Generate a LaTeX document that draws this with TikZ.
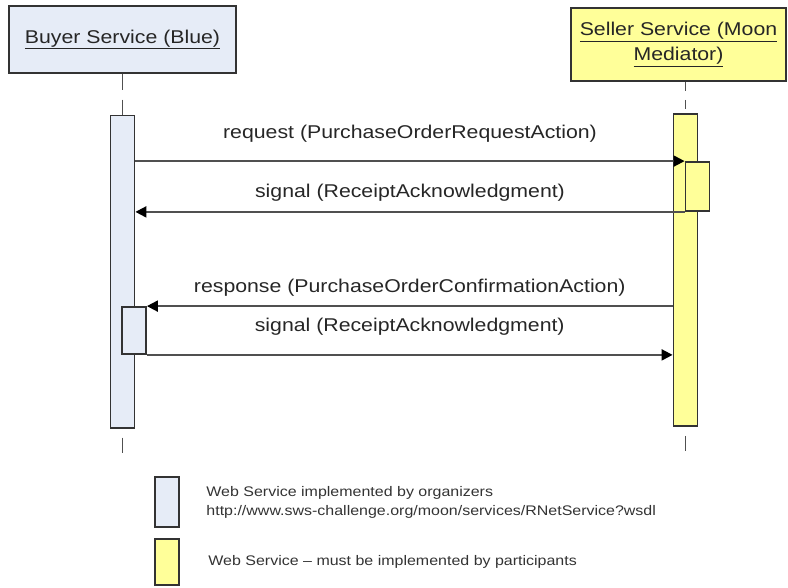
\documentclass[tikz,border=0pt]{standalone}
\usepackage{fontspec}
\setmainfont{Liberation Sans}[FakeStretch=1.15]
\usetikzlibrary{positioning, arrows.meta}

\definecolor{buyerblue}{HTML}{E6ECF7}
\definecolor{selleryellow}{HTML}{FFFF99}
\definecolor{linegray}{HTML}{505050}
\definecolor{edgegray}{HTML}{333333}

\begin{document}
\begin{tikzpicture}[x=1pt, y=-1pt,
	head/.style={draw=edgegray, line width=1.8pt, inner sep=0pt, align=center, text=black!85, font=\fontsize{18.5}{25}\selectfont},
	bar/.style={draw=edgegray, line width=1.8pt, inner sep=0pt, minimum width=24pt},
	life/.style={draw=linegray, line width=1.8pt},
	msg/.style={draw=linegray, line width=2pt, -{Triangle[length=11pt, width=11pt, color=black]}},
	lbl/.style={text=black!85, font=\fontsize{18.5}{22}\selectfont},
	legtext/.style={align=left, text=black!80, font=\fontsize{13.9}{19}\selectfont}]
	\useasboundingbox (0,0) rectangle (788,588);
	\node[head, fill=buyerblue, minimum width=227pt, minimum height=67pt] (buyer) at (122.5,39.3) {\underline{Buyer Service (Blue)}};
	\node[head, fill=selleryellow, minimum width=215pt, minimum height=73pt] (seller) at (678.5,44.5) {\underline{Seller Service (Moon}\\\underline{Mediator)}};
	\node[bar, fill=buyerblue, minimum height=312pt, below=41pt of buyer] (bbar) {};
	\node[bar, fill=selleryellow, minimum height=312pt] (sbar) at (685.5,270) {};
	\node[bar, fill=selleryellow, minimum height=49pt] (sact) at (697.5,186.5) {};
	\node[bar, fill=buyerblue, minimum height=47pt] (bact) at (134,330.5) {};
	% lifelines
	\draw[life, dash pattern=on 16pt off 10pt] (buyer.south) -- (bbar.north);
	\draw[life, dash pattern=on 9pt off 9pt] (sbar.north |- seller.south) -- (sbar.north);
	\draw[life, dash pattern=on 0pt off 9pt on 15pt off 9pt] (bbar.south) -- ++(0,24);
	\draw[life, dash pattern=on 0pt off 9pt on 15pt off 9pt] (sbar.south) -- ++(0,24);
	% messages
	\draw[msg] (bbar.east |- sact.north) -- node[lbl, above=14pt] (req) {request (PurchaseOrderRequestAction)} (sact.north west);
	\draw[msg] (sact.south west) -- node[lbl, above=6pt] (sig1) {signal (ReceiptAcknowledgment)} (bbar.east |- sact.south);
	\draw[msg] (sbar.west |- bact.north) -- node[lbl, above=5pt] (resp) {response (PurchaseOrderConfirmationAction)} (bact.north east);
	\draw[msg] (bact.south east) -- node[lbl, above=15pt] (sig2) {signal (ReceiptAcknowledgment)} (sbar.west |- bact.south);
	% legend
	\node[bar, fill=buyerblue, minimum height=50pt] (legblue) at (167,502) {};
	\node[bar, fill=selleryellow, minimum height=46pt] (legyellow) at (167,562) {};
	\node[legtext, right=23pt of legblue] (legbluetxt) {Web Service implemented by organizers\\http://www.sws-challenge.org/moon/services/RNetService?wsdl};
	\node[legtext, right=25pt of legyellow] (legyellowtxt) {Web Service -- must be implemented by participants};
\end{tikzpicture}
\end{document}
